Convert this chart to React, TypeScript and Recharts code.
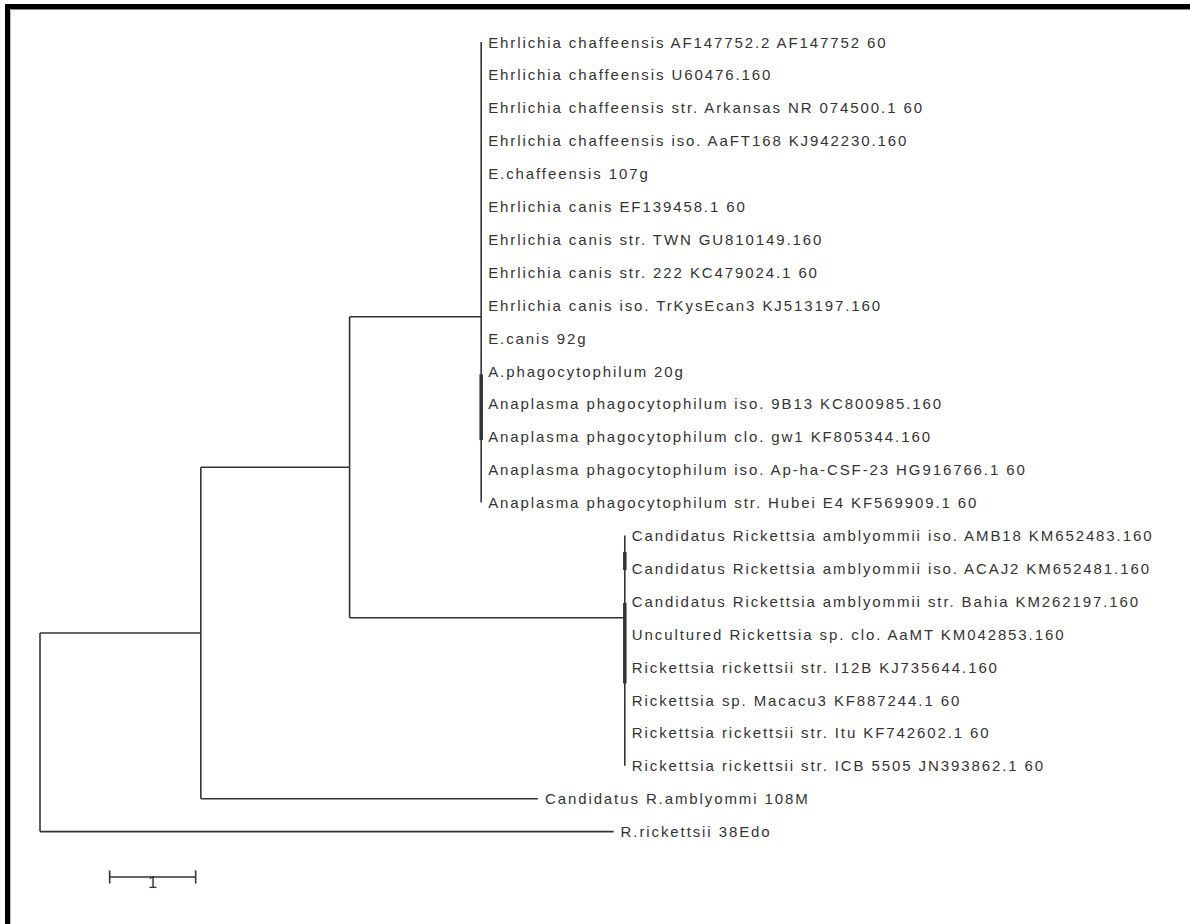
import React from "react";
import { ComposedChart, XAxis, YAxis, ReferenceLine, Scatter } from "recharts";

// leaf labels, top to bottom
const ehrlichiaAnaplasma = [
  "Ehrlichia chaffeensis AF147752.2 AF147752 60",
  "Ehrlichia chaffeensis U60476.160",
  "Ehrlichia chaffeensis str. Arkansas NR 074500.1 60",
  "Ehrlichia chaffeensis iso. AaFT168 KJ942230.160",
  "E.chaffeensis 107g",
  "Ehrlichia canis EF139458.1 60",
  "Ehrlichia canis str. TWN GU810149.160",
  "Ehrlichia canis str. 222 KC479024.1 60",
  "Ehrlichia canis iso. TrKysEcan3 KJ513197.160",
  "E.canis 92g",
  "A.phagocytophilum 20g",
  "Anaplasma phagocytophilum iso. 9B13 KC800985.160",
  "Anaplasma phagocytophilum clo. gw1 KF805344.160",
  "Anaplasma phagocytophilum iso. Ap-ha-CSF-23 HG916766.1 60",
  "Anaplasma phagocytophilum str. Hubei E4 KF569909.1 60",
];

const rickettsia = [
  "Candidatus Rickettsia amblyommii iso. AMB18 KM652483.160",
  "Candidatus Rickettsia amblyommii iso. ACAJ2 KM652481.160",
  "Candidatus Rickettsia amblyommii str. Bahia KM262197.160",
  "Uncultured Rickettsia sp. clo. AaMT KM042853.160",
  "Rickettsia rickettsii str. I12B KJ735644.160",
  "Rickettsia sp. Macacu3 KF887244.1 60",
  "Rickettsia rickettsii str. Itu KF742602.1 60",
  "Rickettsia rickettsii str. ICB 5505 JN393862.1 60",
];

const outgroupNames = ["Candidatus R.amblyommi 108M", "R.rickettsii 38Edo"];
const outgroupDepths = [5.79, 6.67];

// internal nodes: root, inner, split, Ehrlichia/Anaplasma, Rickettsia
const nodeDepths = [0, 1.87, 3.6, 5.13, 6.8];
const ehrAnaRow = 8.35;
const rickRow = 17.5;

// short, near-zero subclades drawn as a heavier stroke on the clade line
const ehrAnaThick = [[10.1, 12.1]];
const rickThick = [
  [15.5, 16.05],
  [17.05, 19.5],
];

const scaleBarStart = 0.81;
const scaleBarLength = 1;
const scaleBarRow = 25.38;

const INK = "#333";
const FONT = "'Liberation Sans', Arial, sans-serif";

const nA = ehrlichiaAnaplasma.length;
const nB = rickettsia.length;
const outRows = [nA + nB, nA + nB + 1];
const splitRow = (ehrAnaRow + rickRow) / 2;
const innerRow = (splitRow + outRows[0]) / 2;

const [dRoot, dInner, dSplit, dEhr, dRick] = nodeDepths;

type Seg = { x1: number; y1: number; x2: number; y2: number; w?: number };

const segments: Seg[] = [
  // root
  { x1: dRoot, y1: innerRow, x2: dRoot, y2: outRows[1] },
  { x1: dRoot, y1: innerRow, x2: dInner, y2: innerRow },
  { x1: dRoot, y1: outRows[1], x2: outgroupDepths[1], y2: outRows[1] },
  // inner
  { x1: dInner, y1: splitRow, x2: dInner, y2: outRows[0] },
  { x1: dInner, y1: splitRow, x2: dSplit, y2: splitRow },
  { x1: dInner, y1: outRows[0], x2: outgroupDepths[0], y2: outRows[0] },
  // split
  { x1: dSplit, y1: ehrAnaRow, x2: dSplit, y2: rickRow },
  { x1: dSplit, y1: ehrAnaRow, x2: dEhr, y2: ehrAnaRow },
  { x1: dSplit, y1: rickRow, x2: dRick, y2: rickRow },
  // clade lines
  { x1: dEhr, y1: 0, x2: dEhr, y2: nA - 1 },
  { x1: dRick, y1: nA, x2: dRick, y2: nA + nB - 1 },
  ...ehrAnaThick.map(([a, b]) => ({ x1: dEhr, y1: a, x2: dEhr, y2: b, w: 3.5 })),
  ...rickThick.map(([a, b]) => ({ x1: dRick, y1: a, x2: dRick, y2: b, w: 3.5 })),
  // scale bar
  { x1: scaleBarStart, y1: scaleBarRow, x2: scaleBarStart + scaleBarLength, y2: scaleBarRow },
  { x1: scaleBarStart, y1: scaleBarRow - 0.2, x2: scaleBarStart, y2: scaleBarRow + 0.2 },
  {
    x1: scaleBarStart + scaleBarLength,
    y1: scaleBarRow - 0.2,
    x2: scaleBarStart + scaleBarLength,
    y2: scaleBarRow + 0.2,
  },
];

const leaves = [
  ...ehrlichiaAnaplasma.map((name, i) => ({ x: dEhr, y: i, name })),
  ...rickettsia.map((name, i) => ({ x: dRick, y: nA + i, name })),
  ...outgroupNames.map((name, i) => ({ x: outgroupDepths[i], y: outRows[i], name })),
];

const scaleLabel = [{ x: scaleBarStart + scaleBarLength / 2, y: scaleBarRow, name: String(scaleBarLength) }];

function LeafLabel(props: any) {
  const { cx, cy, payload } = props;
  return (
    <text
      x={cx + 7}
      y={cy}
      dominantBaseline="central"
      fontFamily={FONT}
      fontSize={15}
      letterSpacing={1.9}
      fill={INK}
    >
      {payload.name}
    </text>
  );
}

function ScaleLabel(props: any) {
  const { cx, cy, payload } = props;
  return (
    <text
      x={cx}
      y={cy}
      dominantBaseline="hanging"
      textAnchor="middle"
      fontFamily={FONT}
      fontSize={16}
      fill={INK}
    >
      {payload.name}
    </text>
  );
}

const W = 1190;
const H = 924;
const PX_PER_UNIT = 86;
const ROOT_X = 40;
const ROW_H = 32.9;
const ROW0_Y = 42;

export default function App() {
  const xDomain = [-ROOT_X / PX_PER_UNIT, (W - ROOT_X) / PX_PER_UNIT];
  const yDomain = [-ROW0_Y / ROW_H, (H - ROW0_Y) / ROW_H];
  return (
    <div style={{ position: "fixed", left: 0, top: 0, width: W, height: H, background: "#fff" }}>
      <div style={{ position: "absolute", left: 5, top: 4, width: W - 5, height: 5, background: "#000" }} />
      <div style={{ position: "absolute", left: 5, top: 4, width: 5, height: H - 4, background: "#000" }} />
      <div style={{ position: "absolute", left: 10, top: 9, width: W - 10, height: 1, background: "#888" }} />
      <div style={{ position: "absolute", left: 10, top: 9, width: 1, height: H - 9, background: "#bbb" }} />
      <ComposedChart width={W} height={H} margin={{ top: 0, right: 0, bottom: 0, left: 0 }}>
        <XAxis type="number" dataKey="x" domain={xDomain} hide allowDataOverflow />
        <YAxis type="number" dataKey="y" domain={yDomain} reversed hide allowDataOverflow />
        {segments.map((s, i) => (
          <ReferenceLine
            key={i}
            segment={[
              { x: s.x1, y: s.y1 },
              { x: s.x2, y: s.y2 },
            ]}
            stroke={INK}
            strokeWidth={s.w ?? 1.6}
            ifOverflow="visible"
          />
        ))}
        <Scatter data={leaves} shape={LeafLabel} isAnimationActive={false} />
        <Scatter data={scaleLabel} shape={ScaleLabel} isAnimationActive={false} />
      </ComposedChart>
    </div>
  );
}
